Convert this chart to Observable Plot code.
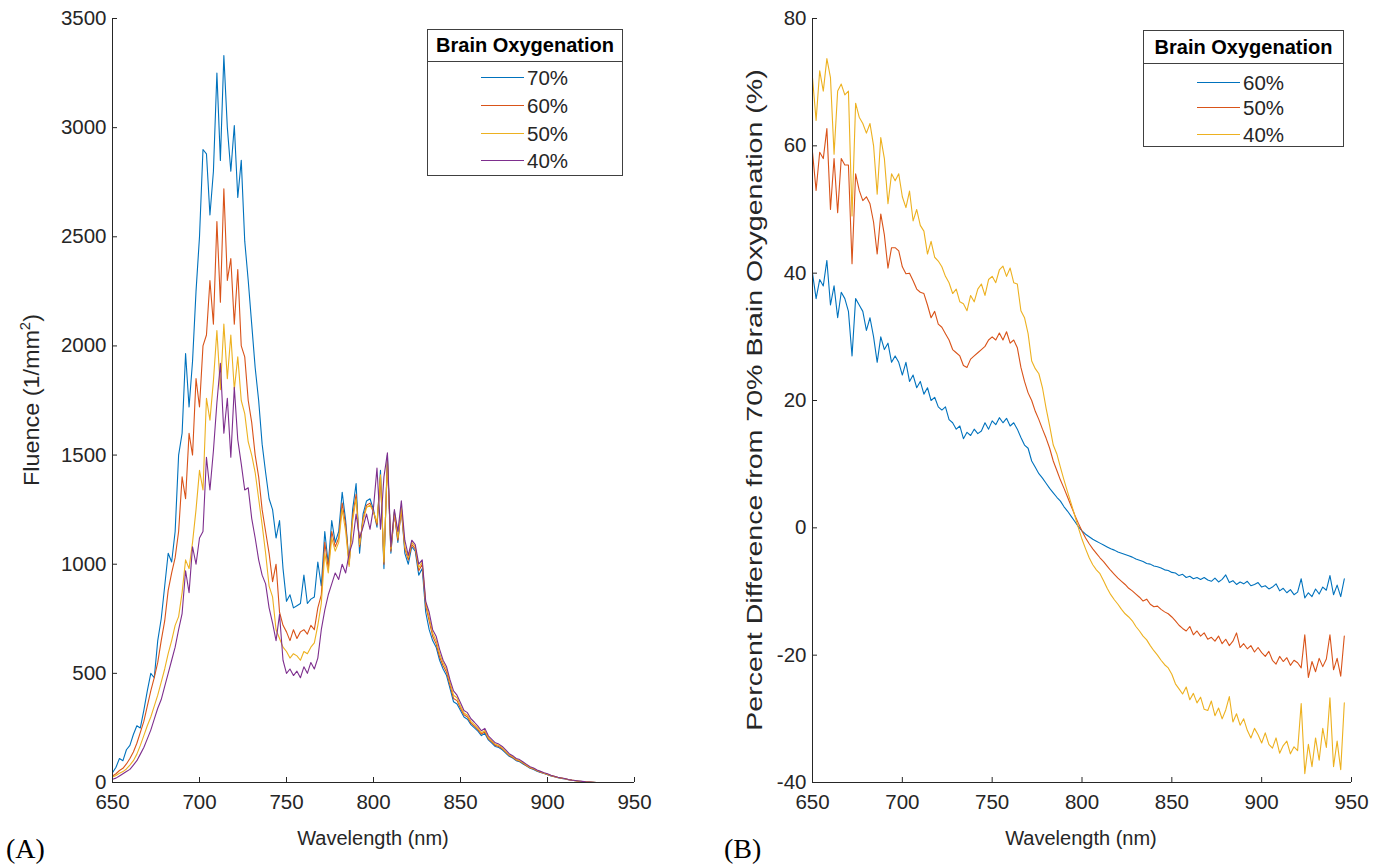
<!DOCTYPE html>
<html><head><meta charset="utf-8">
<script src="https://cdn.jsdelivr.net/npm/d3@7"></script>
<script src="https://cdn.jsdelivr.net/npm/@observablehq/plot@0.6"></script>
<style>
body{margin:0;background:#fff;}
#wrap{position:relative;width:1384px;height:867px;overflow:hidden;font-family:"Liberation Sans",Arial,sans-serif;color:#262626;}
.leg{position:absolute;border:1px solid #404040;background:#fff;box-sizing:border-box;}
.leghead{position:absolute;left:0;right:0;top:0;font-weight:bold;font-size:20px;color:#000;text-align:center;border-bottom:1px solid #404040;}
.legline{position:absolute;height:0;border-top:1.5px solid;}
.legtxt{position:absolute;font-size:20.5px;color:#262626;line-height:20px;}
.ylab{position:absolute;font-size:22px;white-space:nowrap;line-height:24px;}
.xlab{position:absolute;font-size:20px;white-space:nowrap;transform:translate(-50%,-50%);}
.tag{position:absolute;font-family:"Liberation Serif","Times New Roman",serif;font-size:28px;color:#000;}
</style></head><body><div id="wrap"></div>
<script>
// ---------- data ----------
const wavelengthStart = 650, wavelengthStep = 2;
const xTicks = [650, 700, 750, 800, 850, 900, 950];
const fluenceTicks = [0, 500, 1000, 1500, 2000, 2500, 3000, 3500];
const pctTicks = [-40, -20, 0, 20, 40, 60, 80];
const fluenceNames = ["70%", "60%", "50%", "40%"];
const pctNames = ["60%", "50%", "40%"];
const colors = ["#0072BD", "#D95319", "#EDB120", "#7E2F8E"];

// Fluence (1/mm^2), 650..930 nm every 2 nm
const flu70 = [
45,70,110,100,150,170,220,260,250,330,
420,500,480,650,750,900,1050,1010,1150,1500,
1600,1965,1720,1930,2250,2500,2900,2880,2600,2800,
3250,2850,3330,3000,2800,3010,2680,2850,2480,2300,
2100,1900,1750,1550,1420,1300,1250,1120,1200,980,
830,860,800,810,820,950,820,840,850,1010,
900,1150,1000,1200,1100,1150,1330,1200,1000,1250,
1370,1050,1230,1290,1300,1250,1170,1430,980,1500,
1050,1240,1100,1260,1050,1000,1080,1060,950,980,
780,700,650,620,560,520,490,430,370,360,
330,300,290,265,250,235,215,225,195,180,
165,160,150,135,120,112,100,95,85,75,
65,60,52,46,41,36,30,26,22,19,
16,13,10,8,6,4,3,2,1,0,
0];
const flu60 = [
30,40,55,65,85,110,140,180,230,280,
350,420,480,550,650,740,880,960,1030,1150,
1400,1300,1600,1500,1850,1720,2000,2050,2300,2100,
2570,2200,2720,2300,2400,2100,2350,2000,1950,1750,
1650,1500,1400,1250,1150,1050,920,1000,780,720,
690,650,700,660,690,700,680,720,700,800,
860,1100,980,1150,1080,1120,1280,1180,1000,1220,
1320,1080,1210,1270,1280,1240,1180,1400,1000,1480,
1060,1230,1110,1250,1070,1020,1090,1070,970,1000,
810,740,670,635,575,535,505,445,385,375,
340,310,300,272,258,242,222,232,200,186,
170,165,155,139,124,115,103,98,88,77,
67,62,54,47,42,37,31,27,23,20,
17,13,10,8,6,4,3,2,1,0,
0];
const flu50 = [
25,32,42,50,62,80,100,130,170,215,
260,300,350,400,460,520,590,650,720,760,
870,1020,980,1100,1250,1430,1340,1760,1660,1840,
2070,1800,2100,1850,2050,1800,1950,1750,1690,1560,
1500,1420,1300,1180,1050,900,850,700,660,620,
600,570,590,580,560,600,590,620,640,720,
820,1050,960,1120,1060,1100,1250,1150,990,1200,
1300,1090,1200,1260,1270,1240,1190,1410,1010,1470,
1070,1240,1120,1260,1080,1030,1100,1080,985,1010,
825,755,685,650,590,548,518,458,400,388,
350,318,308,280,265,249,228,238,206,191,
175,170,159,143,127,119,106,101,90,80,
69,64,55,49,43,38,32,28,23,20,
17,14,11,8,6,4,3,2,1,0,
0];
const flu40 = [
15,20,30,40,50,60,80,100,130,160,
200,240,290,340,380,440,500,560,620,700,
774,970,870,1080,1000,1120,1150,1490,1340,1520,
1740,1920,1600,1760,1490,1810,1570,1460,1340,1350,
1210,1120,1020,950,910,800,730,650,770,560,
500,520,490,510,480,530,500,550,520,570,
700,790,860,910,960,930,1000,960,1050,1100,
1230,1120,1170,1230,1160,1260,1440,1160,1400,1510,
1080,1250,1150,1290,1110,1040,1110,1090,1000,1020,
830,780,700,670,610,560,530,470,420,400,
365,330,320,292,276,258,237,248,214,198,
182,176,165,149,132,123,110,105,94,83,
72,66,57,51,45,40,33,29,24,21,
18,14,11,9,7,5,3,2,1,0,
0];

// Percent difference from 70% (%), 650..946 nm every 2 nm
const pd60 = [
40,36,39,38,42,35,38,33,37,36,
34,27,36,35,34,31,33,30,26,30,
28,29,26,27,26,24,26,23,24,22,
23,21,22,20,20.5,19,18.5,19,17,16.5,
15.5,16,14,15,14.5,15.5,14.8,15.2,16.5,15.5,
16.8,16.2,17.3,16.5,17.2,16,16.5,15.5,14.2,13,
12.5,10.5,9.5,8.5,7.8,7,6.2,5.5,4.8,4.2,
3.3,2.6,1.8,1,0.2,-0.5,-1,-1.4,-1.8,-2.1,
-2.4,-2.7,-3,-3.3,-3.5,-3.8,-4,-4.2,-4.4,-4.6,
-4.9,-5.1,-5.3,-5.6,-5.7,-6,-6.1,-6.3,-6.6,-6.7,
-7,-7.1,-7.5,-7.3,-7.8,-7.6,-8,-7.8,-8.1,-7.8,
-8.2,-8.4,-7.9,-8.5,-8.1,-7.4,-8.6,-8.3,-8.9,-8.5,
-8.8,-8.4,-9.1,-8.9,-8.6,-9.3,-9.1,-9.6,-9.3,-8.8,
-9.9,-9.5,-10.2,-9.7,-10.5,-10.1,-8,-11,-10.2,-10.8,
-9.6,-10.4,-9.3,-9.8,-7.5,-10.5,-9,-10.8,-8];
const pd50 = [
59,53,59,58,62.7,50,58,49.5,58,57,
57,41.5,55.6,53,51.4,52,50.9,48,43,49.3,
46,40.8,44,44,43.5,41,39.9,40,38.8,37.5,
37,36.8,35,33,34,32,31.5,30.5,29.5,28,
27.5,27,25.5,25.2,26.5,27,27.5,28,28.5,29.5,
30,29.5,30.6,29.5,30.8,29,29.5,28.3,25.2,23,
21.2,20,18.3,17,15.5,14.1,12.5,10.5,9,7.5,
6.2,4.8,3.4,2,0.7,-0.5,-1.6,-2.5,-3.3,-4,
-4.7,-5.3,-6,-6.7,-7.3,-7.9,-8.4,-8.9,-9.5,-9.9,
-10.4,-10.9,-11.5,-11.2,-12,-12.4,-12.3,-12.8,-13.2,-13.5,
-14,-14.6,-15.3,-15.8,-16.2,-15.5,-16.8,-16.2,-17,-16.5,
-17.5,-17.2,-17.8,-17,-18.2,-17.5,-18.5,-17.8,-16.5,-18.8,
-18.2,-19,-18.5,-19.5,-18.8,-19.6,-20.2,-19.4,-20.8,-21.4,
-20.2,-21,-20.4,-21.6,-20.8,-21.2,-22,-16.8,-23.5,-21,
-22.6,-20.5,-21.8,-20.6,-16.8,-22.3,-20.5,-23.3,-17];
const pd40 = [
70.7,64,71.8,68.6,73.7,70.7,58.7,68.6,69.7,68,
68.6,49,66.7,64.5,63.5,62,63.5,60,52.4,61.3,
58,50.9,55.6,54.5,55.6,52,50.3,52.9,48.2,50,
47.5,46.6,43,45,42.5,41.9,41,39.5,38.5,36.8,
37.5,35.5,35.2,34.1,36.5,35.5,37.5,38.3,36.5,39,
39.5,38.5,40.5,41.1,39.5,40.8,38.5,38.3,34.1,33,
30.5,26.2,25,24.2,22,18.8,16,13,11.6,9.5,
7.5,5.6,3.8,1.9,0,-1.8,-3.3,-4.7,-5.8,-6.6,
-7.2,-8.3,-9.5,-10.5,-11.3,-12,-12.8,-13.5,-14,-14.6,
-15.5,-16.2,-17,-17.6,-18.5,-19.3,-20,-20.8,-21.5,-22,
-23,-24.5,-25.3,-26.1,-25,-27,-26,-27.5,-26.6,-28.5,
-28.7,-27.2,-29.5,-28.3,-30,-28.6,-26.5,-30.5,-29.2,-31,
-30,-31.8,-33,-31.5,-32.5,-33.8,-32.2,-34,-34.6,-33,
-35.4,-34.2,-33.5,-35.5,-34.4,-35,-27.6,-38.6,-34,-37.5,
-33,-36.5,-31.5,-34.5,-26.7,-37.5,-33.5,-38,-27.5];

// ---------- drawing ----------
const wrap = document.getElementById("wrap");
const AX = "#262626";
const FONT = "'Liberation Sans', Arial, sans-serif";
const toRows = (arr) => arr.map((v, i) => ({w: wavelengthStart + i * wavelengthStep, v}));

function panel({series, yDomain, yTicks, left, mL, mR}) {
  const W = 692, H = 867, mT = 18, mB = 85;
  const innerW = W - mL - mR, innerH = H - mT - mB;
  const marks = [];
  series.forEach((arr, i) => {
    marks.push(Plot.line(toRows(arr), {x: "w", y: "v", stroke: colors[i], strokeWidth: 1.1}));
  });
  marks.push(
    Plot.ruleX([xTicks[0]], {stroke: AX, strokeWidth: 1}),
    Plot.ruleY([yDomain[0]], {stroke: AX, strokeWidth: 1}),
    Plot.tickX(xTicks, {x: d => d, stroke: AX, insetTop: innerH - 5}),
    Plot.tickY(yTicks, {y: d => d, stroke: AX, insetRight: innerW - 5}),
    Plot.axisX(xTicks, {tickSize: 0, tickPadding: 12, label: null, fill: AX, fontSize: 20.5, tickFormat: d => String(d)}),
    Plot.axisY(yTicks, {tickSize: 0, tickPadding: 6, label: null, fill: AX, fontSize: 20.5, tickFormat: d => String(d)})
  );
  const svg = Plot.plot({
    width: W, height: H, marginLeft: mL, marginRight: mR, marginTop: mT, marginBottom: mB,
    x: {domain: [650, 950], label: null},
    y: {domain: yDomain, label: null},
    style: {fontFamily: FONT, fontSize: "20.5px", color: AX, background: "transparent", overflow: "visible"},
    marks
  });
  svg.style.position = "absolute";
  svg.style.left = left + "px";
  svg.style.top = "0px";
  wrap.appendChild(svg);
}

panel({series: [flu70, flu60, flu50, flu40], yDomain: [0, 3500], yTicks: fluenceTicks, left: 0, mL: 112, mR: 58});
panel({series: [pd60, pd50, pd40], yDomain: [-40, 80], yTicks: pctTicks, left: 692, mL: 120, mR: 33});

function el(cls, html, style) {
  const d = document.createElement("div");
  d.className = cls; d.innerHTML = html;
  Object.assign(d.style, style);
  wrap.appendChild(d);
  return d;
}
// rotated y titles, stretched to the length they take in the reference
function ylab(html, cx, cy, len) {
  const d = el("ylab", html, {left: "0px", top: "0px"});
  const w = d.offsetWidth, h = d.offsetHeight;
  const s = len / w;
  d.style.left = (cx - w / 2) + "px";
  d.style.top = (cy - h / 2) + "px";
  d.style.transform = `rotate(-90deg) scaleX(${s})`;
}
ylab("Fluence (1/mm<sup style='font-size:14px;vertical-align:9px;line-height:0'>2</sup>)", 32, 400, 172);
ylab("Percent Difference from 70% Brain Oxygenation (%)", 755, 400, 662);
el("xlab", "Wavelength (nm)", {left: "373px", top: "838px"});
el("xlab", "Wavelength (nm)", {left: "1081px", top: "838px"});
el("tag", "(A)", {left: "6px", top: "833px"});
el("tag", "(B)", {left: "724px", top: "833px"});

// legends
function legend(names, cols, box, sep, rows) {
  const L = el("leg", "", {left: box[0] + "px", top: box[1] + "px", width: box[2] + "px", height: box[3] + "px"});
  const h = document.createElement("div");
  h.className = "leghead"; h.textContent = "Brain Oxygenation";
  h.style.height = sep + "px"; h.style.lineHeight = sep + "px";
  L.appendChild(h);
  names.forEach((n, i) => {
    const ln = document.createElement("div");
    ln.className = "legline";
    Object.assign(ln.style, {left: "53px", width: "43px", top: (rows[i] - 1) + "px", borderTopColor: cols[i]});
    L.appendChild(ln);
    const t = document.createElement("div");
    t.className = "legtxt"; t.textContent = n;
    Object.assign(t.style, {left: "99px", top: (rows[i] - 10) + "px"});
    L.appendChild(t);
  });
}
legend(fluenceNames, colors, [427, 29, 196, 147], 31, [48, 76, 104, 131]);
legend(pctNames, colors, [1143, 30, 201, 117], 32, [52, 77, 104]);
</script>
</body></html>
